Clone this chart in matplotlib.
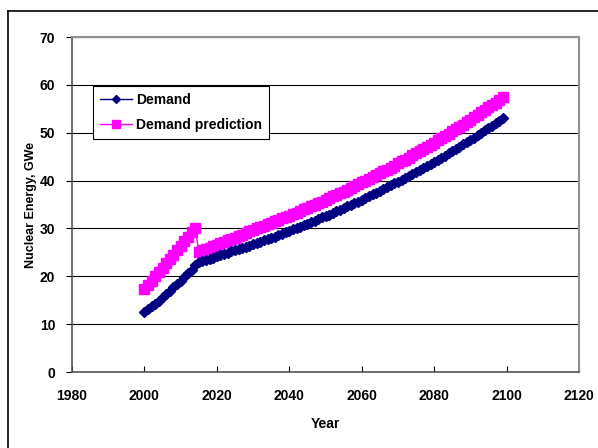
import matplotlib
matplotlib.use("Agg")
import matplotlib.pyplot as plt
from matplotlib.lines import Line2D

plt.rcParams['font.family'] = ['Liberation Sans', 'DejaVu Sans']
plt.rcParams['font.weight'] = 'bold'

# Données
years = list(range(2000, 2100))

demand = [12.5, 13.1, 13.7, 14.3, 14.9, 15.6, 16.3, 17.0, 17.7, 18.4,
          19.1, 19.8, 20.6, 21.4, 22.3,
          23.0, 23.2, 23.5, 23.7, 23.9, 24.2, 24.4, 24.7, 24.9, 25.2,
          25.4, 25.7, 25.9, 26.2, 26.4, 26.7, 27.0, 27.2, 27.5, 27.8,
          28.1, 28.3, 28.6, 28.9, 29.2, 29.5, 29.8, 30.1, 30.4, 30.7,
          31.0, 31.3, 31.6, 31.9, 32.3, 32.6, 32.9, 33.2, 33.6, 33.9,
          34.2, 34.6, 34.9, 35.3, 35.6, 36.0, 36.4, 36.7, 37.1, 37.5,
          37.8, 38.2, 38.6, 39.0, 39.4, 39.8, 40.2, 40.6, 41.0, 41.4,
          41.8, 42.2, 42.6, 43.1, 43.5, 43.9, 44.4, 44.8, 45.2, 45.7,
          46.2, 46.6, 47.1, 47.6, 48.0, 48.5, 49.0, 49.5, 50.0, 50.5,
          51.0, 51.5, 52.0, 52.5, 53.1]

prediction = [17.3, 18.2, 19.1, 20.0, 20.9, 21.8, 22.7, 23.6, 24.5, 25.4,
              26.3, 27.3, 28.2, 29.2, 30.1,
              25.1, 25.4, 25.7, 26.0, 26.3, 26.6, 26.9, 27.2, 27.5, 27.8,
              28.1, 28.4, 28.7, 29.1, 29.4, 29.7, 30.0, 30.3, 30.6, 30.9,
              31.2, 31.5, 31.8, 32.1, 32.4, 32.7, 33.0, 33.3, 33.7, 34.0,
              34.3, 34.6, 35.0, 35.3, 35.6, 36.0, 36.3, 36.7, 37.0, 37.4,
              37.7, 38.1, 38.5, 38.8, 39.2, 39.6, 40.0, 40.4, 40.7, 41.1,
              41.5, 41.9, 42.3, 42.7, 43.1, 43.6, 44.0, 44.4, 44.8, 45.3,
              45.7, 46.1, 46.6, 47.0, 47.5, 47.9, 48.4, 48.8, 49.3, 49.8,
              50.3, 50.7, 51.2, 51.7, 52.2, 52.7, 53.2, 53.7, 54.3, 54.8,
              55.3, 55.8, 56.3, 56.9, 57.5]

fig = plt.figure(figsize=(5.98, 4.48), dpi=100)
ax = fig.add_axes([72/598, 1 - 372/448, (579 - 72)/598, (372 - 37)/448])

# cadre extérieur (coupé à droite et en bas)
fig.add_artist(Line2D([8/598, 8/598], [-0.1, 1 - 11/448], color='black', lw=1.2))
fig.add_artist(Line2D([8/598, 1.1], [1 - 11/448, 1 - 11/448], color='black', lw=1.2))

ax.plot(years, prediction, color='#FF00FF', marker='s', markersize=7, lw=1,
        label='Demand prediction', zorder=3)
ax.plot(years, demand, color='#000080', marker='D', markersize=5, lw=1,
        label='Demand', zorder=4)

ax.set_xlim(1980, 2120)
ax.set_ylim(0, 70)
ax.set_xticks(range(1980, 2121, 20))
ax.set_yticks(range(0, 71, 10))
ax.grid(axis='y', color='black', lw=0.8)
ax.set_axisbelow(True)

for s in ['top', 'right']:
    ax.spines[s].set_color('#909090')
    ax.spines[s].set_linewidth(1.5)
for s in ['left', 'bottom']:
    ax.spines[s].set_color('#555555')
    ax.spines[s].set_linewidth(1.2)

ax.tick_params(axis='x', direction='in', length=4, labelsize=10, pad=12)
ax.tick_params(axis='y', direction='out', length=4, labelsize=10, pad=8)

ax.set_xlabel('Year', fontsize=10, fontweight='bold', labelpad=10)
ax.set_ylabel('Nuclear Energy, GWe', fontsize=9, fontweight='bold', labelpad=2)

h, l = ax.get_legend_handles_labels()
leg = ax.legend(h[::-1], l[::-1], loc='upper left', bbox_to_anchor=(0.041, 0.854),
                borderaxespad=0, fontsize=10, frameon=True, fancybox=False,
                edgecolor='black', framealpha=1, handlelength=2.3, borderpad=0.5,
                labelspacing=0.8, handletextpad=0.3, markerscale=0.75)
leg.get_frame().set_linewidth(0.8)

fig.savefig('out.png', dpi=100)
